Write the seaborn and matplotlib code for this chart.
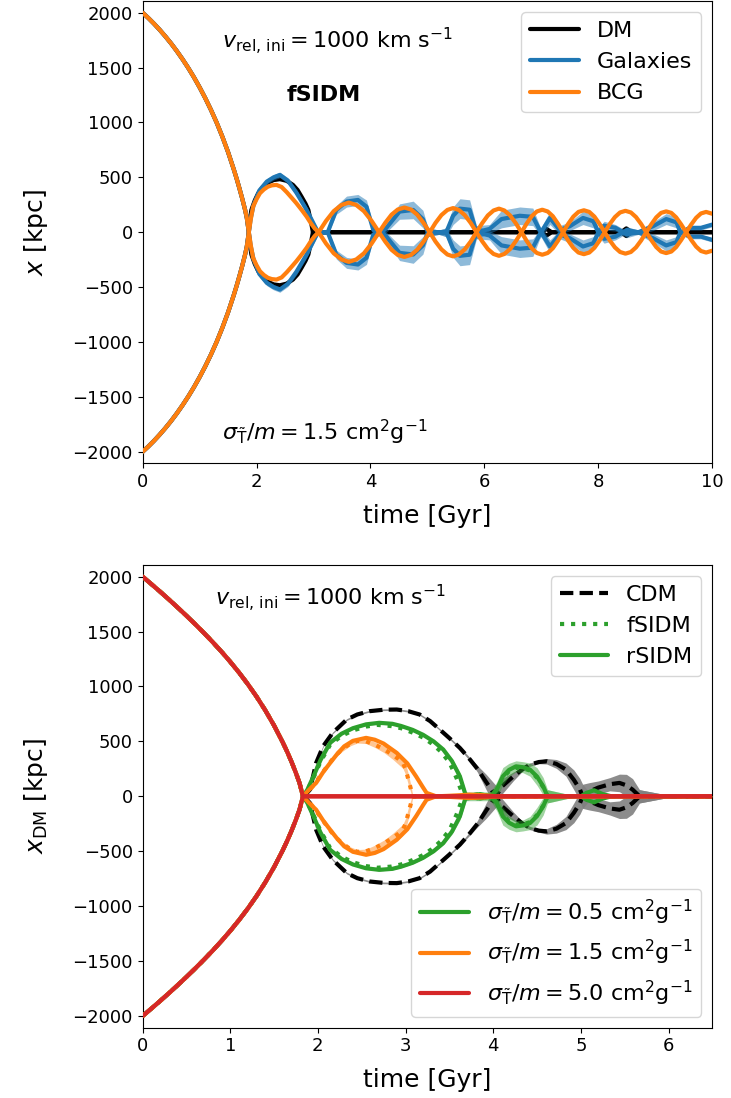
import numpy as np
import seaborn as sns
import matplotlib.pyplot as plt
from matplotlib.lines import Line2D

# ---------------- top panel: fSIDM, sigma/m = 1.5 ----------------
# infall (shared by DM, galaxies and BCG), halo starting at +2000 kpc
t_in_top = [0.0, 0.1, 0.2, 0.3, 0.4, 0.5, 0.6, 0.7, 0.8, 0.9, 1.0, 1.1, 1.2, 1.3, 1.4,
            1.5, 1.6, 1.65, 1.7, 1.75, 1.8, 1.83, 1.865]
x_in_top = [2000, 1952, 1900, 1844, 1784, 1720, 1651, 1577, 1498, 1413, 1321, 1222, 1115,
            999, 871, 731, 574, 490, 400, 305, 203, 130, 0]

# DM after first pericentre
t_dm = [1.88, 1.91, 1.97, 2.03, 2.1, 2.18, 2.3, 2.41, 2.53, 2.64, 2.72, 2.79, 2.86, 2.91,
        2.96, 2.99, 4.0, 5.0, 6.0, 7.0, 7.09, 7.18, 8.4, 8.49, 8.58, 9.0, 10.0]
x_dm = [-100, -203, -290, -355, -405, -446, -475, -483, -468, -431, -385, -324, -260, -203,
        -82, 0, 0, 0, 0, 0, 30, 0, 0, 35, 0, 0, 0]

# galaxies (mean line and half width of the band)
t_gal = [1.9, 1.95, 2.05, 2.18, 2.3, 2.41, 2.55, 2.7, 2.88, 3.0, 3.08, 3.25, 3.4, 3.58, 3.78,
         3.93, 4.05, 4.2, 4.28, 4.51, 4.75, 4.92, 5.01, 5.2, 5.33, 5.45, 5.57, 5.74, 5.86,
         6.09, 6.3, 6.62, 6.85, 6.97, 7.15, 7.32, 7.5, 7.73, 7.91, 8.0, 8.1, 8.3, 8.5,
         8.7, 8.96, 9.19, 9.37, 9.43, 9.6, 9.8, 10.0]
x_gal = [-130, -250, -380, -461, -500, -522, -470, -360, -203, -80, 0, 0, 203, 279, 294,
         233, 20, 0, -40, -188, -203, -120, 0, 0, 0, 150, 215, 205, 0,
         -30, -120, -150, -140, -20, 130, 20, 55, 130, 100, 0, -60, -40, 20,
         0, 55, 120, 90, 10, -40, -40, -70]
w_gal = [10, 15, 20, 25, 25, 25, 25, 30, 30, 25, 20, 20, 40, 50, 50,
         60, 40, 20, 40, 70, 80, 80, 40, 20, 40, 80, 90, 90, 60,
         40, 80, 80, 80, 40, 60, 40, 40, 60, 60, 40, 40, 30, 30,
         20, 40, 50, 50, 30, 20, 20, 20]

# BCG
t_bcg = [1.9, 1.94, 2.0, 2.06, 2.13, 2.2, 2.27, 2.35, 2.44, 2.53, 2.62, 2.7, 2.8, 2.88,
         2.95, 3.02, 3.09,
         3.22, 3.355, 3.49, 3.62, 3.75, 3.885, 4.02, 4.15,
         4.26, 4.37, 4.48, 4.595, 4.71, 4.82, 4.93, 5.04,
         5.14, 5.245, 5.35, 5.45, 5.55, 5.655, 5.76, 5.86,
         5.96, 6.06, 6.16, 6.255, 6.35, 6.45, 6.55, 6.65,
         6.74, 6.83, 6.92, 7.015, 7.11, 7.2, 7.29, 7.38,
         7.47, 7.56, 7.65, 7.745, 7.84, 7.93, 8.02, 8.11,
         8.2, 8.29, 8.38, 8.475, 8.57, 8.66, 8.75, 8.84,
         8.93, 9.015, 9.1, 9.19, 9.28, 9.365, 9.45, 9.54,
         9.63, 9.715, 9.8, 9.89, 9.98, 10.0]
x_bcg = [-120, -233, -300, -355, -390, -415, -427, -431, -412, -365, -312, -264, -198, -142,
         -85, -35, 0,
         103, 192, 248, 270, 248, 192, 103, 0,
         -86, -160, -207, -225, -207, -160, -86, 0,
         84, 156, 203, 220, 203, 156, 84, 0,
         -82, -153, -198, -215, -198, -153, -82, 0,
         78, 146, 189, 205, 189, 146, 78, 0,
         -76, -142, -185, -200, -185, -142, -76, 0,
         75, 138, 180, 195, 180, 138, 75, 0,
         -73, -135, -176, -190, -176, -135, -73, 0,
         71, 131, 171, 185, 171, 168]

# ---------------- bottom panel: DM only ----------------
t_in_bot = [0.0, 0.1, 0.2, 0.3, 0.4, 0.5, 0.6, 0.7, 0.8, 0.9, 1.0, 1.1, 1.2, 1.3, 1.4,
            1.5, 1.6, 1.65, 1.7, 1.75, 1.79, 1.83]
x_in_bot = [2000, 1932, 1863, 1792, 1719, 1644, 1567, 1487, 1404, 1317, 1225, 1127, 1022,
            908, 783, 645, 490, 405, 313, 212, 123, 0]

# CDM (line and half width of the grey band)
t_cdm = [1.87, 1.91, 1.98, 2.06, 2.17, 2.33, 2.45, 2.59, 2.75, 2.9, 3.03, 3.16, 3.28, 3.39,
         3.5, 3.62, 3.72, 3.82, 3.92, 4.03,
         4.1, 4.23, 4.33, 4.42, 4.52, 4.61, 4.72, 4.83, 4.92, 4.99, 5.02,
         5.1, 5.2, 5.33, 5.44, 5.52, 5.59, 5.67, 6.0, 6.5]
x_cdm = [-25, -61, -304, -456, -578, -699, -745, -775, -788, -790, -775, -745, -685, -608,
         -530, -440, -350, -250, -130, 0,
         90, 182, 245, 289, 312, 319, 295, 243, 150, 61, 0,
         -45, -80, -110, -122, -100, -61, 0, 0, 0]
w_cdm = [5, 8, 10, 8, 8, 8, 8, 8, 8, 8, 8, 8, 8, 8,
         10, 10, 15, 30, 70, 100,
         70, 40, 20, 15, 15, 25, 40, 60, 90, 100, 110,
         80, 60, 60, 80, 100, 100, 60, 10, 10]

# rSIDM / fSIDM, sigma/m = 0.5
t_g_r = [1.88, 1.95, 2.03, 2.14, 2.27, 2.4, 2.55, 2.7, 2.85, 2.95, 3.08, 3.2, 3.32, 3.43,
         3.53, 3.62, 3.69, 3.85, 3.97,
         4.04, 4.11, 4.18, 4.26, 4.34, 4.42, 4.5, 4.57, 4.62, 4.9, 5.0, 5.06, 5.15, 5.25,
         5.35, 6.5]
x_g_r = [-60, -182, -330, -487, -570, -620, -655, -669, -660, -640, -605, -560, -500, -426,
         -320, -182, 0, -20, 0,
         60, 182, 240, 273, 265, 243, 180, 91, 0, 0, 0, 30, 55, 20,
         0, 0]
w_g_r = [5, 10, 10, 10, 10, 10, 10, 10, 10, 10, 10, 10, 12, 15,
         25, 35, 40, 20, 40,
         70, 80, 60, 50, 50, 60, 80, 80, 60, 10, 10, 10, 10, 10,
         5, 5]
t_g_f = [1.88, 1.95, 2.03, 2.14, 2.27, 2.4, 2.55, 2.68, 2.83, 2.95, 3.08, 3.2, 3.3, 3.4,
         3.5, 3.58, 3.66, 3.85, 3.97,
         4.04, 4.11, 4.18, 4.26, 4.34, 4.42, 4.5, 4.57, 4.62, 5.4, 6.5]
x_g_f = [-55, -170, -315, -470, -550, -600, -635, -650, -640, -620, -580, -535, -480, -410,
         -310, -170, 0, -20, 0,
         55, 170, 228, 260, 255, 235, 170, 85, 0, 0, 0]

# rSIDM / fSIDM, sigma/m = 1.5
t_o_r = [1.9, 1.98, 2.06, 2.14, 2.22, 2.3, 2.4, 2.55, 2.65, 2.75, 2.9, 3.02, 3.12, 3.2,
         3.24, 3.35, 3.5, 3.73, 3.9, 4.04, 6.5]
x_o_r = [-60, -122, -220, -304, -385, -455, -505, -532, -515, -480, -395, -300, -182, -80,
         -31, 0, -5, -15, -10, 0, 0]
t_o_f = [1.9, 1.96, 2.04, 2.12, 2.2, 2.28, 2.37, 2.45, 2.55, 2.65, 2.75, 2.85, 2.92, 2.97,
         3.0, 3.03, 3.06, 3.08, 6.5]
x_o_f = [-50, -110, -200, -290, -370, -430, -480, -505, -500, -470, -430, -380, -340, -304,
         -250, -160, -70, 0, 0]
w_o_f = [5, 8, 10, 15, 15, 20, 20, 20, 20, 25, 30, 40, 50, 50,
         50, 50, 35, 20, 5]

# sigma/m = 5.0: merges straight away
t_red = [2.5, 4.0, 6.5]
x_red = [0, 0, 0]

C_BLUE, C_ORANGE, C_GREEN, C_RED = "#1f77b4", "#ff7f0e", "#2ca02c", "#d62728"

sns.set_style("ticks", {"axes.edgecolor": "black", "xtick.color": "black",
                        "ytick.color": "black", "text.color": "black",
                        "axes.labelcolor": "black"})
plt.rcParams["font.family"] = ["DejaVu Sans"]
plt.rcParams["mathtext.fontset"] = "dejavusans"
plt.rcParams["xtick.labelsize"] = 13
plt.rcParams["ytick.labelsize"] = 13
plt.rcParams["axes.labelsize"] = 18
plt.rcParams["legend.fontsize"] = 16
plt.rcParams["legend.handlelength"] = 2.2

fig = plt.figure(figsize=(7.31, 10.98), dpi=100)
ax1 = fig.add_axes([0.195, 0.578, 0.7795, 0.421])
ax2 = fig.add_axes([0.195, 0.0641, 0.7795, 0.4213])

LW = 3
DASH = (0, (3.2, 1.5))


def track(t_in, x_in, t_after, x_after, sign=1):
    t = np.array(t_in + t_after)
    x = sign * np.array(x_in + x_after)
    return t, x


def draw(ax, t, x, color, ls="-", lw=LW, band=None, band_color=None, alpha=0.5, z=2):
    if band is not None:
        ax.fill_between(t, x - band, x + band, color=band_color or color,
                        alpha=alpha, lw=0, zorder=z - 0.5)
    sns.lineplot(x=t, y=x, color=color, lw=lw, linestyle=ls, ax=ax,
                 estimator=None, sort=False, zorder=z)


# ---- top panel ----
for s in (1, -1):
    t, x = track(t_in_top, x_in_top, t_dm, x_dm, s)
    draw(ax1, t, x, "black", z=2)
for s in (1, -1):
    t, x = track(t_in_top, x_in_top, t_gal, x_gal, s)
    w = np.array([5] * len(t_in_top) + w_gal)
    draw(ax1, t, x, C_BLUE, band=w, z=3)
for s in (1, -1):
    t, x = track(t_in_top, x_in_top, t_bcg, x_bcg, s)
    draw(ax1, t, x, C_ORANGE, z=4)

ax1.set_xlim(0, 10)
ax1.set_ylim(-2105, 2105)
ax1.set_yticks([-2000, -1500, -1000, -500, 0, 500, 1000, 1500, 2000])
ax1.set_xlabel("time [Gyr]", labelpad=9)
ax1.set_ylabel("$x$ [kpc]", labelpad=16)
ax1.text(0.139, 0.913, r"$v_{\rm rel,\,ini} = 1000$ km s$^{-1}$", transform=ax1.transAxes,
         fontsize=16, va="center")
ax1.text(0.252, 0.797, "fSIDM", transform=ax1.transAxes, fontsize=16,
         fontweight="bold", va="center")
ax1.text(0.139, 0.068, r"$\sigma_{\tilde{\rm T}}/m = 1.5$ cm$^2$g$^{-1}$",
         transform=ax1.transAxes, fontsize=16, va="center")
h1 = [Line2D([], [], color="black", lw=LW), Line2D([], [], color=C_BLUE, lw=LW),
      Line2D([], [], color=C_ORANGE, lw=LW)]
ax1.legend(h1, ["DM", "Galaxies", "BCG"], loc="upper right")

# ---- bottom panel ----
for s in (1, -1):
    t, x = track(t_in_bot, x_in_bot, t_cdm, x_cdm, s)
    w = np.array([3] * len(t_in_bot) + w_cdm)
    ax2.fill_between(t, x - w, x + w, color="grey", alpha=0.9, lw=0, zorder=1)
    sns.lineplot(x=t, y=x, color="black", lw=LW, linestyle=DASH, ax=ax2,
                 estimator=None, sort=False, zorder=2)
for s in (1, -1):
    t, x = track(t_in_bot, x_in_bot, t_g_r, x_g_r, s)
    w = np.array([3] * len(t_in_bot) + w_g_r)
    draw(ax2, t, x, C_GREEN, band=w, alpha=0.45, z=3)
    t, x = track(t_in_bot, x_in_bot, t_g_f, x_g_f, s)
    draw(ax2, t, x, C_GREEN, ls=":", z=3)
for s in (1, -1):
    t, x = track(t_in_bot, x_in_bot, t_o_r, x_o_r, s)
    draw(ax2, t, x, C_ORANGE, z=4)
    t, x = track(t_in_bot, x_in_bot, t_o_f, x_o_f, s)
    w = np.array([3] * len(t_in_bot) + w_o_f)
    draw(ax2, t, x, C_ORANGE, ls=":", band=w, alpha=0.45, z=4)
for s in (1, -1):
    t, x = track(t_in_bot, x_in_bot, t_red, x_red, s)
    draw(ax2, t, x, C_RED, z=5)

ax2.set_xlim(0, 6.5)
ax2.set_ylim(-2105, 2105)
ax2.set_yticks([-2000, -1500, -1000, -500, 0, 500, 1000, 1500, 2000])
ax2.set_xlabel("time [Gyr]", labelpad=9)
ax2.set_ylabel(r"$x_{\rm DM}$ [kpc]", labelpad=16)
ax2.text(0.127, 0.929, r"$v_{\rm rel,\,ini} = 1000$ km s$^{-1}$", transform=ax2.transAxes,
         fontsize=16, va="center")
h2 = [Line2D([], [], color="black", lw=LW, ls=DASH),
      Line2D([], [], color=C_GREEN, lw=LW, ls=":"),
      Line2D([], [], color=C_GREEN, lw=LW)]
leg = ax2.legend(h2, ["CDM", "fSIDM", "rSIDM"], loc="upper right")
ax2.add_artist(leg)
h3 = [Line2D([], [], color=c, lw=LW) for c in (C_GREEN, C_ORANGE, C_RED)]
lab3 = [r"$\sigma_{\tilde{\rm T}}/m = %s$ cm$^2$g$^{-1}$" % v for v in ("0.5", "1.5", "5.0")]
ax2.legend(h3, lab3, loc="lower right")

fig.savefig("out.png", dpi=100)
